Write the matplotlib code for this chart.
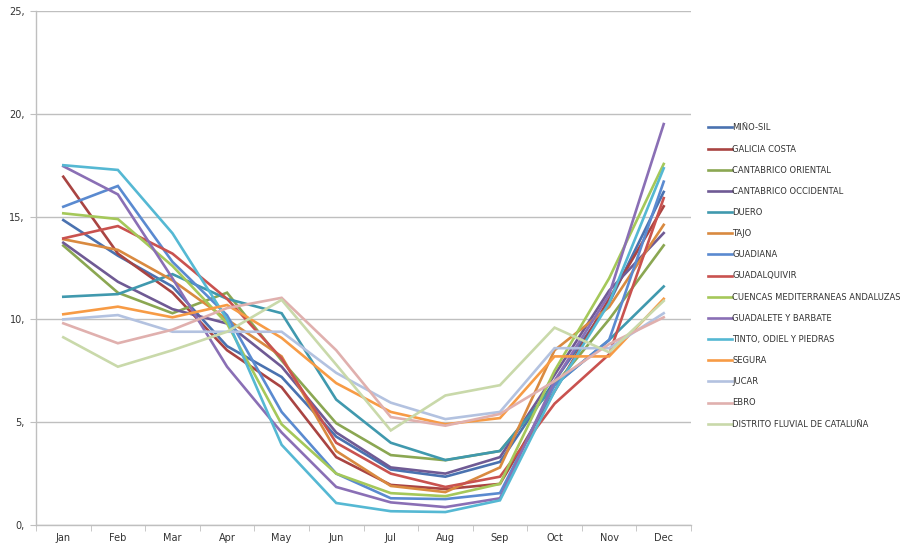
import matplotlib
matplotlib.use("Agg")
import matplotlib.pyplot as plt
from matplotlib.ticker import FixedLocator, FuncFormatter

months = ["Jan", "Feb", "Mar", "Apr", "May", "Jun", "Jul", "Aug", "Sep", "Oct", "Nov", "Dec"]

series_names = [
    "MIÑO-SIL", "GALICIA COSTA", "CANTABRICO ORIENTAL", "CANTABRICO OCCIDENTAL",
    "DUERO", "TAJO", "GUADIANA", "GUADALQUIVIR", "CUENCAS MEDITERRANEAS ANDALUZAS",
    "GUADALETE Y BARBATE", "TINTO, ODIEL Y PIEDRAS", "SEGURA", "JUCAR", "EBRO",
    "DISTRITO FLUVIAL DE CATALUÑA",
]

mino_sil = [14.83, 13.1, 11.6, 8.7, 7.2, 4.3, 2.7, 2.35, 3.07, 7.0, 10.8, 16.2]
galicia_costa = [16.94, 13.2, 11.3, 8.5, 6.7, 3.3, 1.95, 1.75, 2.0, 6.5, 11.0, 15.5]
cantabrico_oriental = [13.59, 11.3, 10.3, 11.3, 8.0, 4.95, 3.4, 3.15, 3.6, 6.8, 10.0, 13.6]
cantabrico_occidental = [13.73, 11.83, 10.5, 9.8, 7.7, 4.5, 2.8, 2.5, 3.3, 7.3, 11.4, 14.2]
duero = [11.1, 11.23, 12.2, 11.0, 10.3, 6.1, 4.0, 3.16, 3.6, 6.8, 9.0, 11.6]
tajo = [13.9, 13.38, 11.9, 10.0, 8.2, 3.6, 1.9, 1.6, 2.8, 8.5, 10.6, 14.6]
guadiana = [15.48, 16.49, 12.8, 10.2, 5.5, 2.5, 1.3, 1.26, 1.55, 6.8, 9.0, 16.7]
guadalquivir = [13.94, 14.54, 13.2, 11.0, 8.1, 4.0, 2.5, 1.85, 2.35, 5.9, 8.3, 15.9]
cuencas = [15.16, 14.88, 12.6, 9.8, 4.9, 2.5, 1.55, 1.4, 2.0, 7.5, 12.0, 17.56]
guadalete = [17.45, 16.08, 12.0, 7.7, 4.5, 1.85, 1.1, 0.87, 1.3, 7.0, 11.2, 19.5]
tinto = [17.5, 17.27, 14.19, 10.0, 3.9, 1.07, 0.67, 0.63, 1.2, 6.5, 10.8, 17.35]
segura = [10.25, 10.62, 10.1, 10.7, 9.1, 6.9, 5.5, 4.9, 5.2, 8.2, 8.2, 11.0]
jucar = [10.0, 10.21, 9.4, 9.4, 9.4, 7.4, 5.95, 5.15, 5.5, 8.6, 8.6, 10.3]
ebro = [9.81, 8.84, 9.5, 10.55, 11.05, 8.5, 5.25, 4.83, 5.4, 7.0, 8.8, 10.1]
distrito = [9.13, 7.7, 8.5, 9.4, 10.95, 7.8, 4.6, 6.3, 6.8, 9.6, 8.4, 10.9]

all_values = [mino_sil, galicia_costa, cantabrico_oriental, cantabrico_occidental,
              duero, tajo, guadiana, guadalquivir, cuencas, guadalete, tinto,
              segura, jucar, ebro, distrito]

colors = ["#4A72B0", "#A94442", "#8BA752", "#6F5A94", "#4099AE", "#D98A40",
          "#5A8AD0", "#C9524F", "#A5C85A", "#8A6FB5", "#55B8D3", "#F79B45",
          "#B3C2E0", "#E0B0AE", "#C9D9AA"]

yticks = [0, 5, 10, 15, 20, 25]

fig = plt.figure(figsize=(9.03, 5.45), dpi=100)
ax = fig.add_axes([36 / 903, 20 / 545, (691 - 36) / 903, (525 - 11) / 545])

x = list(range(len(months)))
for name, vals, c in zip(series_names, all_values, colors):
    ax.plot(x, vals, color=c, lw=1.9, label=name, solid_joinstyle="miter")

ax.set_xlim(-0.5, len(months) - 0.5)
ax.set_ylim(0, 25)
ax.yaxis.set_major_locator(FixedLocator(yticks))
ax.yaxis.set_major_formatter(FuncFormatter(lambda v, p: f"{int(v)},"))
ax.set_xticks(x)
ax.set_xticklabels(months)
ax.xaxis.set_minor_locator(FixedLocator([i - 0.5 for i in range(len(months) + 1)]))
ax.tick_params(axis="x", which="major", length=0, pad=6, labelsize=7, colors="#333333")
ax.tick_params(axis="x", which="minor", length=4, color="#BFBFBF", direction="out")
ax.tick_params(axis="y", which="major", length=4, color="#BFBFBF", labelsize=7,
               labelcolor="#333333", pad=4)
ax.grid(axis="y", color="#BFBFBF", lw=1)
ax.set_axisbelow(True)
for s in ["top", "right"]:
    ax.spines[s].set_visible(False)
for s in ["left", "bottom"]:
    ax.spines[s].set_color("#BFBFBF")
    ax.spines[s].set_linewidth(1)

leg = fig.legend(loc="upper left", bbox_to_anchor=(705 / 903, 1 - 120 / 545),
                 frameon=False, fontsize=6.0, handlelength=2.8, handletextpad=0.1,
                 labelspacing=1.46, borderaxespad=0)
for t in leg.get_texts():
    t.set_color("#333333")

fig.savefig("out.png", dpi=100)
